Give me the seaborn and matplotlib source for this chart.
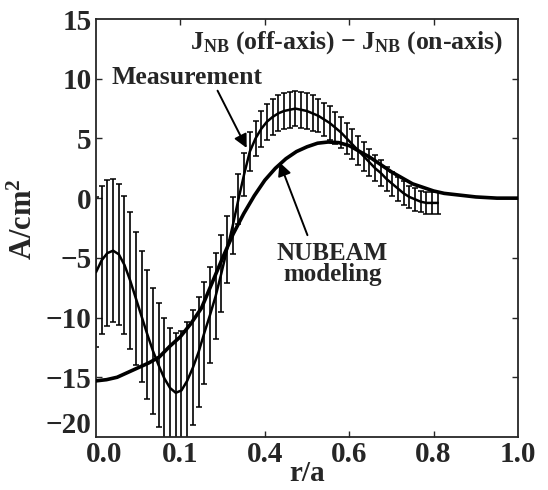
import numpy as np
import matplotlib
matplotlib.use("Agg")
import matplotlib.pyplot as plt
import matplotlib.transforms as mtransforms
import seaborn as sns

# measured profile (centre and half-width of error bar)
r_meas = [0.0, 0.0135, 0.027, 0.0405, 0.054, 0.0675, 0.081, 0.0945, 0.108, 0.1215,
          0.135, 0.1485, 0.162, 0.1755, 0.189, 0.2025, 0.216, 0.2295, 0.243, 0.2565,
          0.27, 0.2835, 0.297, 0.3105, 0.324, 0.3375, 0.351, 0.3645, 0.378, 0.3915,
          0.405, 0.4185, 0.432, 0.4455, 0.459, 0.4725, 0.486, 0.4995, 0.513, 0.5265,
          0.54, 0.5535, 0.567, 0.5805, 0.594, 0.6075, 0.621, 0.6345, 0.648, 0.6615,
          0.675, 0.6885, 0.702, 0.7155, 0.729, 0.7425, 0.756, 0.7695, 0.783, 0.7965,
          0.81]
j_meas = [-6.2, -5.2, -4.6, -4.4, -4.7, -5.6, -6.9, -8.4, -9.9, -11.4,
          -12.8, -14.0, -15.1, -15.9, -16.3, -16.1, -15.3, -14.2, -12.9, -11.3,
          -9.8, -8.2, -6.3, -4.3, -2.3, -0.1, 2.0, 3.9, 5.0, 5.8,
          6.4, 6.8, 7.1, 7.3, 7.4, 7.5, 7.4, 7.3, 7.1, 6.9,
          6.6, 6.3, 5.9, 5.5, 5.0, 4.5, 4.0, 3.5, 3.0, 2.5,
          2.1, 1.6, 1.2, 0.8, 0.4, 0.1, -0.1, -0.3, -0.4, -0.4,
          -0.4]
err_meas = [6.3, 6.2, 6.1, 6.0, 5.9, 5.8, 5.7, 5.6, 5.5, 5.4,
            5.3, 5.2, 5.1, 5.0, 5.0, 5.0, 4.9, 4.8, 4.6, 4.3,
            4.0, 3.6, 3.2, 2.8, 2.4, 2.1, 1.8, 1.6, 1.5, 1.5,
            1.5, 1.5, 1.5, 1.5, 1.5, 1.5, 1.5, 1.5, 1.5, 1.4,
            1.4, 1.4, 1.35, 1.3, 1.3, 1.25, 1.2, 1.2, 1.15, 1.1,
            1.1, 1.0, 1.0, 1.0, 1.0, 0.95, 0.95, 0.9, 0.9, 0.9,
            0.9]

# NUBEAM modeling
r_model = [0.0, 0.025, 0.05, 0.075, 0.1, 0.125, 0.15, 0.175, 0.2, 0.225,
           0.25, 0.275, 0.3, 0.325, 0.35, 0.375, 0.4, 0.425, 0.45, 0.475,
           0.5, 0.525, 0.55, 0.575, 0.6, 0.625, 0.65, 0.675, 0.7, 0.725,
           0.75, 0.775, 0.8, 0.825, 0.85, 0.875, 0.9, 0.925, 0.95, 0.975, 1.0]
j_model = [-15.3, -15.2, -15.0, -14.6, -14.2, -13.8, -13.3, -12.4, -11.6, -10.5,
           -9.2, -7.1, -5.0, -3.0, -1.3, 0.2, 1.5, 2.5, 3.3, 3.9,
           4.3, 4.6, 4.7, 4.65, 4.4, 3.9, 3.4, 2.8, 2.2, 1.7,
           1.2, 0.9, 0.6, 0.4, 0.3, 0.2, 0.1, 0.05, 0.0, 0.0, 0.0]

xtick_pos = [0.0, 0.2, 0.4, 0.6, 0.8, 1.0]
xtick_labels = ["0.0", "0.1", "0.4", "0.6", "0.8", "1.0"]
ytick_pos = [-20, -15, -10, -5, 0, 5, 10, 15]

sns.set_style("ticks")
plt.rcParams['font.family'] = ['Liberation Serif', 'DejaVu Serif']
plt.rcParams['font.weight'] = 'bold'
plt.rcParams['mathtext.fontset'] = 'custom'
plt.rcParams['mathtext.rm'] = 'Liberation Serif:bold'
plt.rcParams['mathtext.bf'] = 'Liberation Serif:bold'
plt.rcParams['mathtext.it'] = 'Liberation Serif:bold'

fig = plt.figure(figsize=(5.48, 4.90), dpi=100)
ax = fig.add_axes([0.1752, 0.1082, 0.7701, 0.8530])

ax.errorbar(r_meas, j_meas, yerr=err_meas, fmt='none', ecolor='black',
            elinewidth=1.2, capsize=2.2, capthick=1.1, zorder=2)
sns.lineplot(x=r_meas, y=j_meas, ax=ax, color='black', linewidth=1.8, zorder=3)
sns.lineplot(x=r_model, y=j_model, ax=ax, color='black', linewidth=2.6, zorder=4)

ax.set_xlim(0, 1)
ax.set_ylim(-20, 15)
ax.set_xticks(xtick_pos)
ax.set_xticklabels(xtick_labels)
ax.set_yticks(ytick_pos)
ax.tick_params(direction='in', length=4, width=1, labelsize=21,
               top=True, right=True, pad=3)
for t in [0, 1, 5]:
    ax.xaxis.get_major_ticks()[t].tick1line.set_visible(False)
    ax.xaxis.get_major_ticks()[t].tick2line.set_visible(False)
ax.xaxis.get_major_ticks()[1].tick2line.set_visible(True)
for t in [0, 7]:
    ax.yaxis.get_major_ticks()[t].tick1line.set_visible(False)
    ax.yaxis.get_major_ticks()[t].tick2line.set_visible(False)
for lab in ax.get_xticklabels() + ax.get_yticklabels():
    lab.set_fontweight('bold')
for s in ax.spines.values():
    s.set_linewidth(1.3)

# small label nudges as in the original figure
xl = ax.get_xticklabels()
xl[0].set_transform(xl[0].get_transform() +
                    mtransforms.ScaledTranslation(8 / 100, 0, fig.dpi_scale_trans))
yl = ax.get_yticklabels()
yl[0].set_transform(yl[0].get_transform() +
                    mtransforms.ScaledTranslation(0, 14 / 100, fig.dpi_scale_trans))

ax.set_xlabel('r/a', fontsize=21, fontweight='bold', labelpad=-6)
ax.set_ylabel('A/cm$^2$', fontsize=22, fontweight='bold', labelpad=0)
ax.yaxis.set_label_coords(-0.135, 0.52)

ax.text(0.965, 13.0, r'J$_{\mathrm{NB}}$ (off-axis) $-$ J$_{\mathrm{NB}}$ (on-axis)',
        ha='right', va='center', fontsize=18.5, fontweight='bold')
ax.text(0.036, 10.1, 'Measurement', ha='left', va='center',
        fontsize=18.5, fontweight='bold')
ax.text(0.56, -5.5, 'NUBEAM\nmodeling', ha='center', va='center',
        fontsize=18, fontweight='bold', linespacing=0.9)

arrow = dict(arrowstyle='-|>', color='black', lw=1.4, mutation_scale=20,
             shrinkA=0, shrinkB=0)
ax.annotate('', xy=(0.357, 4.2), xytext=(0.288, 9.0), arrowprops=arrow)
ax.annotate('', xy=(0.435, 3.0), xytext=(0.501, -3.1), arrowprops=arrow)

fig.savefig('out.png', dpi=100)
